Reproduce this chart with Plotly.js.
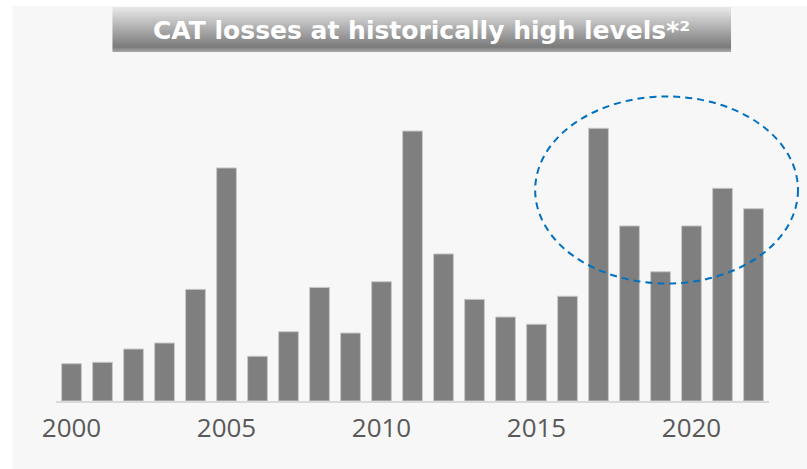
<!DOCTYPE html>
<html>
<head>
<meta charset="utf-8">
<script src="https://cdn.plot.ly/plotly-3.0.1.min.js"></script>
<style>html,body{margin:0;padding:0;background:#fff;}#chart{width:807px;height:469px;}</style>
</head>
<body>
<div id="chart"></div>
<script>
// Data (insured CAT losses, approx. USD bn)
const years = [2000,2001,2002,2003,2004,2005,2006,2007,2008,2009,2010,2011,2012,2013,2014,2015,2016,2017,2018,2019,2020,2021,2022];
const losses = [20.5,21.3,28.6,31.9,61.4,128.2,24.6,38.1,62.5,37.4,65.6,148.5,80.9,55.9,46.2,42.2,57.6,150.0,96.3,71.1,96.3,117.0,105.8];
const tickYears = [2000,2005,2010,2015,2020];
const tickLabels = ['2000','2005','2010','2015','2020'];
const titleText = 'CAT losses at historically high levels*²';

// layout helpers (pixel -> paper)
const W = 807, H = 469;
const mL = 55.5, mR = W - 769, mT = 60, mB = H - 401;
const pw = W - mL - mR, ph = H - mT - mB;
const px = v => (v - mL) / pw;
const py = v => (H - mB - v) / ph;

const shapes = [];
// light gray panel
shapes.push({type:'rect', xref:'paper', yref:'paper', x0:px(12), x1:px(807), y0:py(469), y1:py(6),
  fillcolor:'#f7f7f7', line:{width:0}, layer:'below'});
// title banner gradient (strips)
const bTop = 7, bBot = 52;
function lerp(a,b,t){return Math.round(a+(b-a)*t);}
for (let yy = bTop; yy < bBot; yy++) {
  const t = (yy - bTop) / (bBot - bTop);
  let g;
  if (t < 0.88) g = lerp(232, 122, t/0.88);
  else g = lerp(122, 175, (t-0.88)/0.12);
  shapes.push({type:'rect', xref:'paper', yref:'paper', x0:px(112), x1:px(731), y0:py(yy+1), y1:py(yy),
    fillcolor:`rgb(${g},${g},${g})`, line:{width:0}, layer:'below'});
}
// dashed ellipse
shapes.push({type:'circle', xref:'paper', yref:'paper', x0:px(535), x1:px(798), y0:py(283.5), y1:py(96.5),
  line:{color:'#0070c0', width:2, dash:'7px,5px'}, fillcolor:'rgba(0,0,0,0)', layer:'above'});

const data = [{
  type:'bar', x:years, y:losses,
  marker:{color:'#7f7f7f', line:{color:'#c8c8c8', width:1}},
  hoverinfo:'x+y'
}];

const layout = {
  width:W, height:H,
  margin:{l:mL, r:mR, t:mT, b:mB, pad:0},
  paper_bgcolor:'#ffffff', plot_bgcolor:'rgba(0,0,0,0)',
  bargap:0.36,
  showlegend:false,
  font:{family:'"Open Sans", sans-serif', color:'#595959'},
  xaxis:{range:[1999.5,2022.5], tickmode:'array', tickvals:tickYears, ticktext:tickLabels,
    showgrid:false, zeroline:false, showline:true, linecolor:'#d9d9d9', linewidth:2,
    ticks:'', ticklabelstandoff:3, tickfont:{family:'"Open Sans", sans-serif', size:26, color:'#595959'}, fixedrange:true},
  yaxis:{range:[0, ph/1.818], visible:false, showgrid:false, zeroline:false, fixedrange:true},
  shapes:shapes,
  annotations:[{xref:'paper', yref:'paper', x:px(421), y:py(30), xanchor:'center', yanchor:'middle',
    text:titleText, showarrow:false, font:{family:'"DejaVu Sans", sans-serif', size:25, color:'#ffffff', weight:'bold'}}]
};

Plotly.newPlot('chart', data, layout, {displayModeBar:false, staticPlot:true});
</script>
</body>
</html>
